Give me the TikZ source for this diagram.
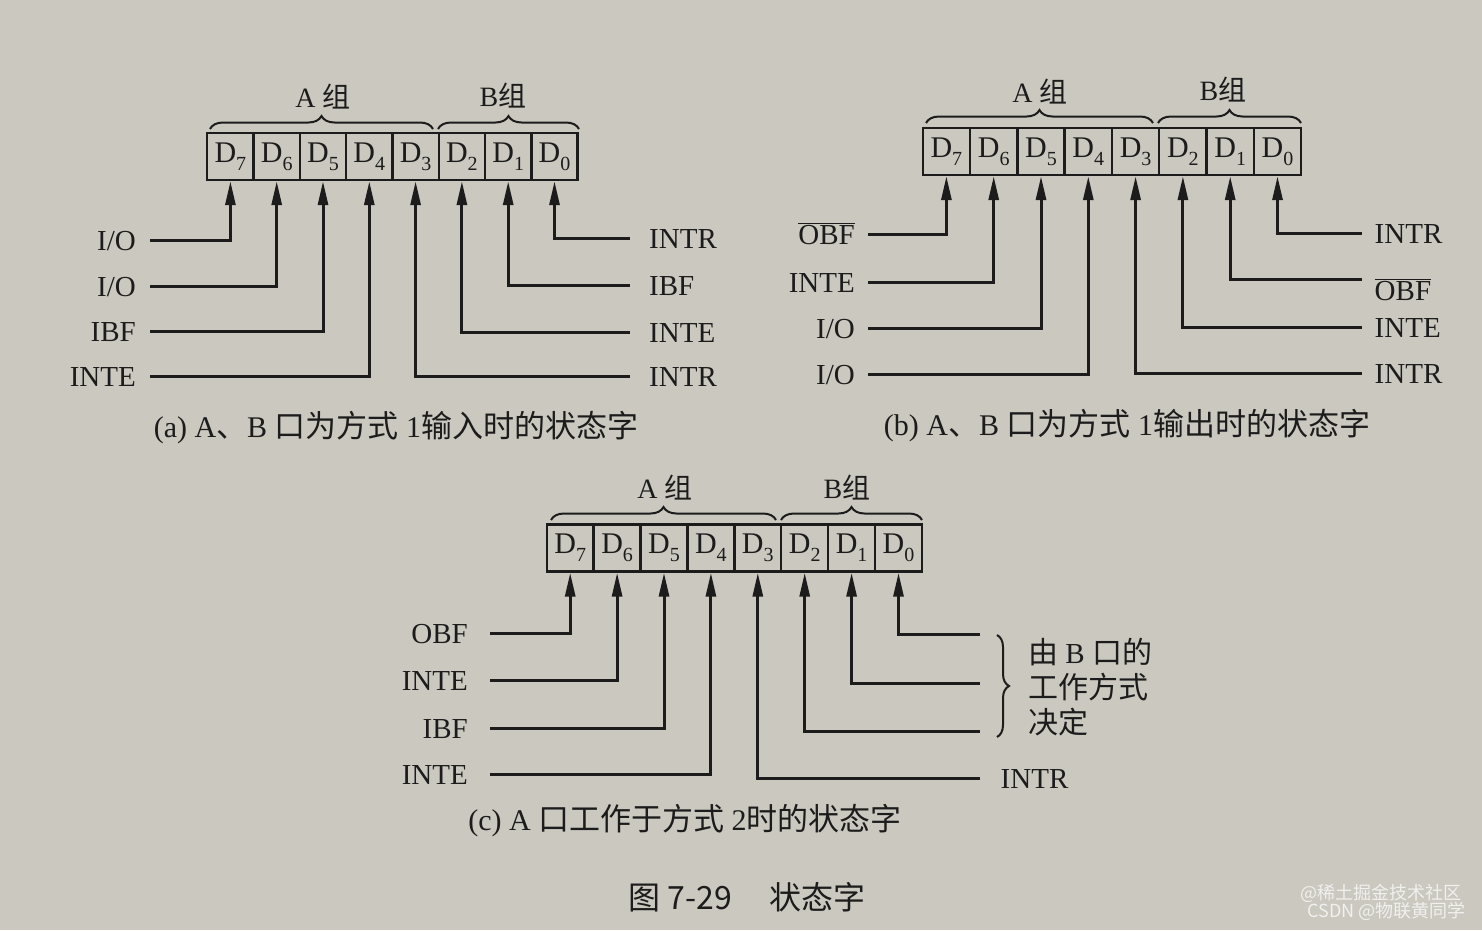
\documentclass[tikz,border=0pt]{standalone}
\usepackage{fontspec}
\setmainfont{Liberation Serif}
\newfontfamily\cjk{Noto Sans CJK SC}
\usetikzlibrary{arrows.meta,decorations.pathreplacing}
\definecolor{pagebg}{RGB}{203,200,192}
\definecolor{ink}{RGB}{28,28,28}
\definecolor{wmark}{RGB}{240,240,238}
\newcommand{\Dsub}[1]{D\raisebox{-8pt}{\fontsize{20}{20}\selectfont #1}}
\begin{document}
\begin{tikzpicture}[x=1pt,y=-1pt,color=ink,
  cellbox/.style={draw,line width=2.4pt,inner sep=0pt,minimum height=47pt,font=\fontsize{30}{30}\selectfont},
  sig/.style={line width=3pt,-{Triangle[length=24pt,width=10pt]}},
  lab/.style={inner ysep=0pt,text height=20pt,text depth=0pt,font=\fontsize{29}{29}\selectfont},
  grp/.style={inner sep=0pt,font=\fontsize{28}{28}\selectfont},
  captext/.style={inner sep=0pt,font=\fontsize{30}{30}\selectfont},
  brc/.style={line width=2pt,decorate,decoration={brace,amplitude=13pt}},
  wm/.style={inner sep=0pt,text=wmark,font=\cjk\fontsize{18}{18}\selectfont,anchor=east}]
\useasboundingbox (0,0) rectangle (1482,930);
\fill[pagebg] (0,0) rectangle (1482,930);

% ---------------- (a) ----------------
\foreach \i in {0,...,7}
  \node[cellbox,minimum width=46.3pt] (a\i) at ({230.4+46.3*(7-\i)},156.5) {\Dsub{\i}};
\draw[brc] (210,129) -- (433,129);
\draw[brc] (438,129) -- (579,129);
\node[grp] (aA) at (323,97) {A {\cjk 组}};
\node[grp] (aB) at (503,96) {B{\cjk 组}};
\node[lab,anchor=east,inner xsep=14pt] (al7) at (150,240) {I/O};
\node[lab,anchor=east,inner xsep=14pt] (al6) at (150,286) {I/O};
\node[lab,anchor=east,inner xsep=14pt] (al5) at (150,331) {IBF};
\node[lab,anchor=east,inner xsep=14pt] (al4) at (150,376) {INTE};
\node[lab,anchor=west,inner xsep=19pt] (ar0) at (630,238) {INTR};
\node[lab,anchor=west,inner xsep=19pt] (ar1) at (630,285) {IBF};
\node[lab,anchor=west,inner xsep=19pt] (ar2) at (630,332) {INTE};
\node[lab,anchor=west,inner xsep=19pt] (ar3) at (630,376) {INTR};
\draw[sig] (al7.east) -| (a7.south);
\draw[sig] (al6.east) -| (a6.south);
\draw[sig] (al5.east) -| (a5.south);
\draw[sig] (al4.east) -| (a4.south);
\draw[sig] (ar3.west) -| (a3.south);
\draw[sig] (ar2.west) -| (a2.south);
\draw[sig] (ar1.west) -| (a1.south);
\draw[sig] (ar0.west) -| (a0.south);
\node[captext] (acap) at (396,428) {(a) A{\cjk\fontsize{31}{31}\selectfont 、}B {\cjk\fontsize{31}{31}\selectfont 口为方式} 1{\cjk\fontsize{31}{31}\selectfont 输入时的状态字}};

% ---------------- (b) ----------------
\foreach \i in {0,...,7}
  \node[cellbox,minimum width=47.3pt] (b\i) at ({946.4+47.3*(7-\i)},151.5) {\Dsub{\i}};
\draw[brc] (926,123) -- (1153,123);
\draw[brc] (1158,123) -- (1301,123);
\node[grp] (bA) at (1040,92) {A {\cjk 组}};
\node[grp] (bB) at (1223,90) {B{\cjk 组}};
\node[lab,anchor=east,inner xsep=13pt] (bl7) at (868,234) {$\overline{\mbox{OBF}}$};
\node[lab,anchor=east,inner xsep=13pt] (bl6) at (868,282) {INTE};
\node[lab,anchor=east,inner xsep=13pt] (bl5) at (868,328) {I/O};
\node[lab,anchor=east,inner xsep=13pt] (bl4) at (868,374) {I/O};
\node[lab,anchor=west,inner xsep=13pt] (br0) at (1361.5,233) {INTR};
\node[lab,anchor=west,inner xsep=13pt] (br1) at (1361.5,290) {$\overline{\mbox{OBF}}$};
\coordinate (br1c) at (1361.5,279);
\node[lab,anchor=west,inner xsep=13pt] (br2) at (1361.5,327) {INTE};
\node[lab,anchor=west,inner xsep=13pt] (br3) at (1361.5,373) {INTR};
\draw[sig] (bl7.east) -| (b7.south);
\draw[sig] (bl6.east) -| (b6.south);
\draw[sig] (bl5.east) -| (b5.south);
\draw[sig] (bl4.east) -| (b4.south);
\draw[sig] (br3.west) -| (b3.south);
\draw[sig] (br2.west) -| (b2.south);
\draw[sig] (br1c) -| (b1.south);
\draw[sig] (br0.west) -| (b0.south);
\node[captext] (bcap) at (1127,426) {(b) A{\cjk\fontsize{31}{31}\selectfont 、}B {\cjk\fontsize{31}{31}\selectfont 口为方式} 1{\cjk\fontsize{31}{31}\selectfont 输出时的状态字}};

% ---------------- (c) ----------------
\foreach \i in {0,...,7}
  \node[cellbox,minimum width=46.9pt] (c\i) at ({570.2+46.9*(7-\i)},548) {\Dsub{\i}};
\draw[brc] (551,520) -- (776,520);
\draw[brc] (781,520) -- (922,520);
\node[grp] (cA) at (665,488) {A {\cjk 组}};
\node[grp] (cB) at (847,488) {B{\cjk 组}};
\node[lab,anchor=east,inner xsep=22pt] (cl7) at (490,633) {OBF};
\node[lab,anchor=east,inner xsep=22pt] (cl6) at (490,680) {INTE};
\node[lab,anchor=east,inner xsep=22pt] (cl5) at (490,728) {IBF};
\node[lab,anchor=east,inner xsep=22pt] (cl4) at (490,774) {INTE};
\coordinate (ce0) at (979.5,634);
\coordinate (ce1) at (979.5,683);
\coordinate (ce2) at (979.5,731);
\node[lab,anchor=west,inner xsep=21pt] (cr3) at (979.5,778) {INTR};
\draw[sig] (cl7.east) -| (c7.south);
\draw[sig] (cl6.east) -| (c6.south);
\draw[sig] (cl5.east) -| (c5.south);
\draw[sig] (cl4.east) -| (c4.south);
\draw[sig] (cr3.west) -| (c3.south);
\draw[sig] (ce2) -| (c2.south);
\draw[sig] (ce1) -| (c1.south);
\draw[sig] (ce0) -| (c0.south);
\draw[line width=2pt,decorate,decoration={brace,amplitude=12pt}] (997,635) -- (997,737);
\node[inner sep=0pt,anchor=north west,align=left,font=\fontsize{29}{35}\selectfont] (cnote) at (1028,638)
  {{\cjk\fontsize{30}{35}\selectfont 由} B {\cjk\fontsize{30}{35}\selectfont 口的}\\{\cjk\fontsize{30}{35}\selectfont 工作方式}\\{\cjk\fontsize{30}{35}\selectfont 决定}};
\node[captext] (ccap) at (685,821) {(c) A {\cjk\fontsize{31}{31}\selectfont 口工作于方式} 2{\cjk\fontsize{31}{31}\selectfont 时的状态字}};

% ---------------- figure caption & watermark ----------------
\node[inner sep=0pt,font=\cjk\fontsize{32}{32}\selectfont] (fig) at (747,897) {图 7-29\hspace{38pt}状态字};
\node[wm] (wm1) at (1462,893) {@稀土掘金技术社区};
\node[wm] (wm2) at (1466,911) {CSDN @物联黄同学};
\end{tikzpicture}
\end{document}
